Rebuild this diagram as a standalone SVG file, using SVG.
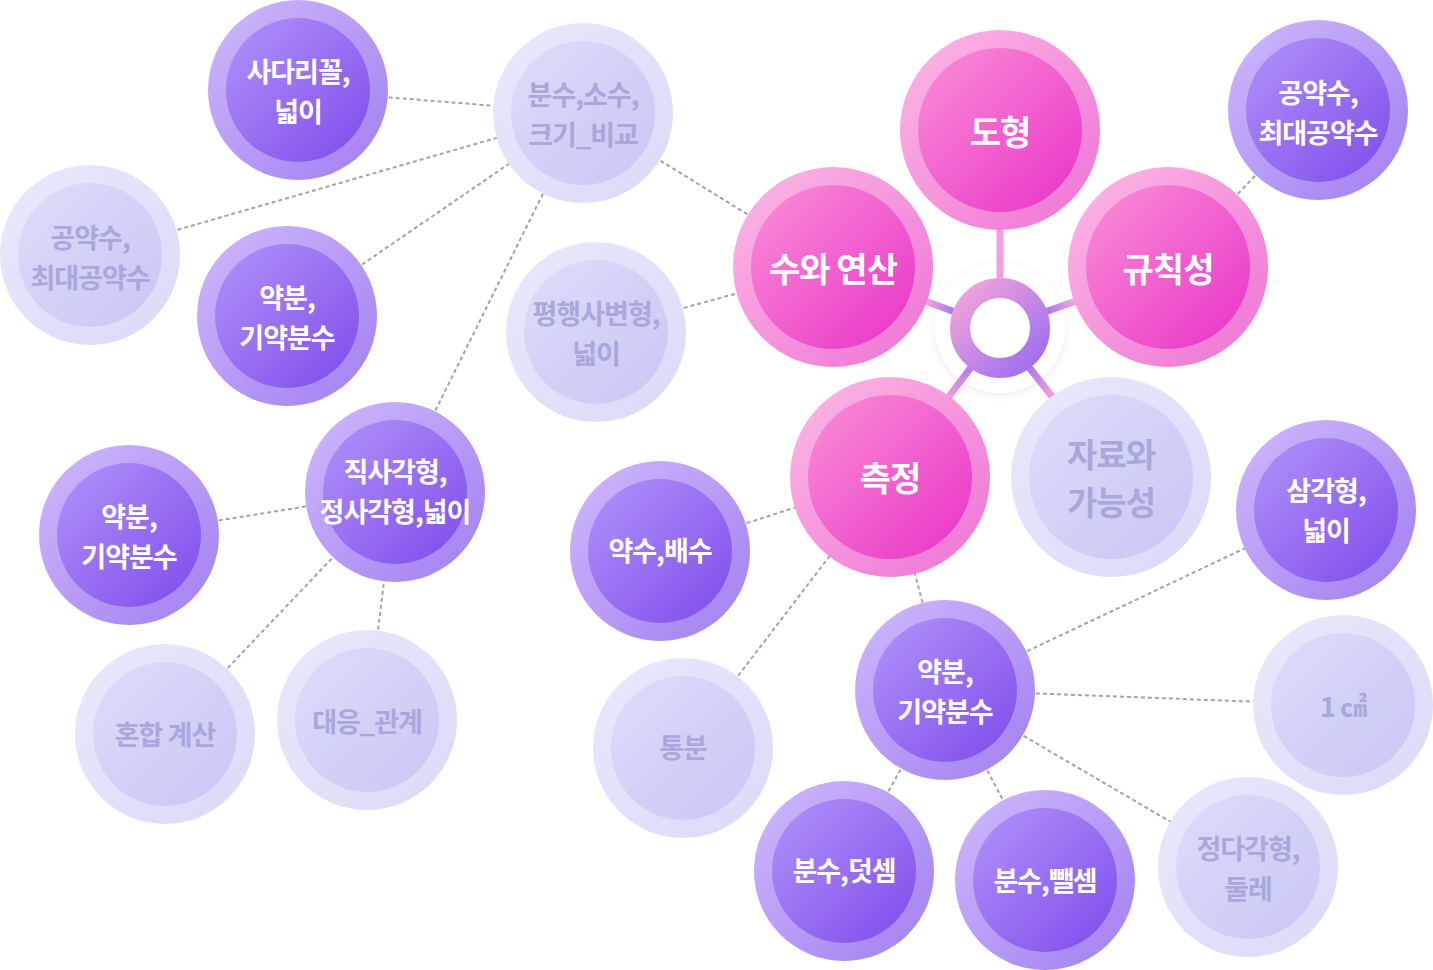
<svg xmlns="http://www.w3.org/2000/svg" width="1433" height="970" viewBox="0 0 1433 970">
<defs>
  <linearGradient id="gPurO" x1="0" y1="0" x2="1" y2="1"><stop offset="0" stop-color="#cfb9fd"/><stop offset="1" stop-color="#a17ef0"/></linearGradient>
  <linearGradient id="gPurI" x1="0" y1="0" x2="1" y2="1"><stop offset="0" stop-color="#b293fb"/><stop offset="1" stop-color="#7e4bea"/></linearGradient>
  <linearGradient id="gPinkO" x1="0" y1="0" x2="1" y2="1"><stop offset="0" stop-color="#fdb9e5"/><stop offset="1" stop-color="#ee72d5"/></linearGradient>
  <linearGradient id="gPinkI" x1="0" y1="0" x2="1" y2="1"><stop offset="0" stop-color="#fb8fd7"/><stop offset="1" stop-color="#e832c7"/></linearGradient>
  <linearGradient id="gLtO" x1="0" y1="0" x2="1" y2="1"><stop offset="0" stop-color="#e8e8fd"/><stop offset="1" stop-color="#dadaf9"/></linearGradient>
  <linearGradient id="gLtI" x1="0" y1="0" x2="1" y2="1"><stop offset="0" stop-color="#dcdcf9"/><stop offset="1" stop-color="#c7c7f6"/></linearGradient>
  <linearGradient id="gHub" x1="0" y1="0" x2="1" y2="1"><stop offset="0" stop-color="#f4a6da"/><stop offset="1" stop-color="#9a6cf1"/></linearGradient>
  <linearGradient id="sL" gradientUnits="userSpaceOnUse" x1="953" y1="311" x2="927" y2="301"><stop offset="0" stop-color="#a57cf0"/><stop offset="1" stop-color="#f4a2dc"/></linearGradient>
  <linearGradient id="sR" gradientUnits="userSpaceOnUse" x1="1047" y1="311" x2="1074" y2="301"><stop offset="0" stop-color="#a57cf0"/><stop offset="1" stop-color="#f4a2dc"/></linearGradient>
  <linearGradient id="sDL" gradientUnits="userSpaceOnUse" x1="970" y1="368" x2="949" y2="396"><stop offset="0" stop-color="#b07ded"/><stop offset="1" stop-color="#f09be0"/></linearGradient>
  <linearGradient id="sDR" gradientUnits="userSpaceOnUse" x1="1030" y1="368" x2="1052" y2="396"><stop offset="0" stop-color="#a97cf0"/><stop offset="1" stop-color="#f29ce0"/></linearGradient>
  <filter id="shadow" x="-30%" y="-30%" width="160%" height="160%">
    <feDropShadow dx="0" dy="2" stdDeviation="4" flood-color="#000" flood-opacity="0.08"/>
  </filter>
</defs>
<style>
  .o-pur{fill:url(#gPurO)} .i-pur{fill:url(#gPurI)}
  .o-pink{fill:url(#gPinkO)} .i-pink{fill:url(#gPinkI)}
  .o-lt{fill:url(#gLtO)} .i-lt{fill:url(#gLtI)}
  text{font-family:"Noto Sans CJK KR","Noto Sans",sans-serif;font-weight:700;text-anchor:middle;dominant-baseline:central}
  .tw{fill:#ffffff;font-size:27px;letter-spacing:-1px}
  .tl{fill:#a8a8dd;font-size:27px;letter-spacing:-1px}
  .tp{fill:#ffffff;font-size:34px;letter-spacing:-1px}
  .tb{fill:#a8a8dd;font-size:33px;letter-spacing:-1px}
  .dash{stroke:#a3a3a3;stroke-width:2;stroke-dasharray:4 3;fill:none}
  .spoke{stroke-width:7;fill:none}
</style>

<g id="connectors">
  <line class="dash" x1="298" y1="90" x2="583" y2="113"/>
  <line class="dash" x1="90" y1="255" x2="583" y2="113"/>
  <line class="dash" x1="287" y1="316" x2="583" y2="113"/>
  <line class="dash" x1="395" y1="492" x2="583" y2="113"/>
  <line class="dash" x1="583" y1="113" x2="833" y2="267"/>
  <line class="dash" x1="596" y1="332" x2="833" y2="267"/>
  <line class="dash" x1="129" y1="535" x2="395" y2="492"/>
  <line class="dash" x1="165" y1="734" x2="395" y2="492"/>
  <line class="dash" x1="367" y1="720" x2="395" y2="492"/>
  <line class="dash" x1="1318" y1="110" x2="1168" y2="267"/>
  <line class="dash" x1="660" y1="551" x2="890" y2="477"/>
  <line class="dash" x1="683" y1="748" x2="890" y2="477"/>
  <line class="dash" x1="890" y1="477" x2="945" y2="690"/>
  <line class="dash" x1="945" y1="690" x2="1326" y2="510"/>
  <line class="dash" x1="945" y1="690" x2="1343" y2="705"/>
  <line class="dash" x1="945" y1="690" x2="1248" y2="867"/>
  <line class="dash" x1="945" y1="690" x2="844" y2="871"/>
  <line class="dash" x1="945" y1="690" x2="1045" y2="880"/>
</g>

<g id="hub">
  <circle cx="1000" cy="328" r="65" fill="#ffffff" filter="url(#shadow)"/>
  <g id="spokes">
    <line class="spoke" x1="1000" y1="280" x2="1000" y2="226" stroke="#f39ddb"/>
    <line class="spoke" x1="955" y1="312" x2="925" y2="301" stroke="url(#sL)"/>
    <line class="spoke" x1="1045" y1="312" x2="1076" y2="301" stroke="url(#sR)"/>
    <line class="spoke" x1="972" y1="366" x2="947" y2="399" stroke="url(#sDL)"/>
    <line class="spoke" x1="1028" y1="366" x2="1054" y2="399" stroke="url(#sDR)"/>
  </g>
  <circle cx="1000" cy="328" r="40" fill="none" stroke="url(#gHub)" stroke-width="20"/>
</g>

<g id="n1" transform="translate(298,90)"><circle class="o-pur" r="90"/><circle class="i-pur" r="72"/><text class="tw"><tspan x="0" y="-20">사다리꼴,</tspan><tspan x="0" y="20">넓이</tspan></text></g>
<g id="n2" transform="translate(90,255)"><circle class="o-lt" r="90"/><circle class="i-lt" r="72"/><text class="tl"><tspan x="0" y="-19">공약수,</tspan><tspan x="0" y="21">최대공약수</tspan></text></g>
<g id="n3" transform="translate(287,316)"><circle class="o-pur" r="90"/><circle class="i-pur" r="72"/><text class="tw"><tspan x="0" y="-20">약분,</tspan><tspan x="0" y="20">기약분수</tspan></text></g>
<g id="n4" transform="translate(583,113)"><circle class="o-lt" r="90"/><circle class="i-lt" r="72"/><text class="tl"><tspan x="0" y="-20">분수,소수,</tspan><tspan x="0" y="20">크기_비교</tspan></text></g>
<g id="n5" transform="translate(596,332)"><circle class="o-lt" r="90"/><circle class="i-lt" r="72"/><text class="tl"><tspan x="0" y="-20">평행사변형,</tspan><tspan x="0" y="20">넓이</tspan></text></g>
<g id="n6" transform="translate(1000,130)"><circle class="o-pink" r="100"/><circle class="i-pink" r="82"/><text class="tp" y="0">도형</text></g>
<g id="n7" transform="translate(833,267)"><circle class="o-pink" r="100"/><circle class="i-pink" r="82"/><text class="tp" y="0">수와 연산</text></g>
<g id="n8" transform="translate(1168,267)"><circle class="o-pink" r="100"/><circle class="i-pink" r="82"/><text class="tp" y="0">규칙성</text></g>
<g id="n9" transform="translate(1318,110)"><circle class="o-pur" r="90"/><circle class="i-pur" r="72"/><text class="tw"><tspan x="0" y="-19">공약수,</tspan><tspan x="0" y="21">최대공약수</tspan></text></g>
<g id="n10" transform="translate(1111,477)"><circle class="o-lt" r="100"/><circle class="i-lt" r="82"/><text class="tb"><tspan x="0" y="-24">자료와</tspan><tspan x="0" y="24">가능성</tspan></text></g>
<g id="n11" transform="translate(1326,510)"><circle class="o-pur" r="90"/><circle class="i-pur" r="72"/><text class="tw"><tspan x="0" y="-21">삼각형,</tspan><tspan x="0" y="19">넓이</tspan></text></g>
<g id="n12" transform="translate(890,477)"><circle class="o-pink" r="100"/><circle class="i-pink" r="82"/><text class="tp" y="-1">측정</text></g>
<g id="n13" transform="translate(660,551)"><circle class="o-pur" r="90"/><circle class="i-pur" r="72"/><text class="tw" y="-2">약수,배수</text></g>
<g id="n14" transform="translate(683,748)"><circle class="o-lt" r="90"/><circle class="i-lt" r="72"/><text class="tl" y="-2">통분</text></g>
<g id="n15" transform="translate(945,690)"><circle class="o-pur" r="90"/><circle class="i-pur" r="72"/><text class="tw"><tspan x="0" y="-20">약분,</tspan><tspan x="0" y="20">기약분수</tspan></text></g>
<g id="n16" transform="translate(844,871)"><circle class="o-pur" r="90"/><circle class="i-pur" r="72"/><text class="tw" y="-2">분수,덧셈</text></g>
<g id="n17" transform="translate(1045,880)"><circle class="o-pur" r="90"/><circle class="i-pur" r="72"/><text class="tw" y="-1">분수,뺄셈</text></g>
<g id="n18" transform="translate(1248,867)"><circle class="o-lt" r="90"/><circle class="i-lt" r="72"/><text class="tl"><tspan x="0" y="-20">정다각형,</tspan><tspan x="0" y="20">둘레</tspan></text></g>
<g id="n19" transform="translate(1343,705)"><circle class="o-lt" r="90"/><circle class="i-lt" r="72"/><text class="tl" y="0">1 ㎠</text></g>
<g id="n20" transform="translate(129,535)"><circle class="o-pur" r="90"/><circle class="i-pur" r="72"/><text class="tw"><tspan x="0" y="-20">약분,</tspan><tspan x="0" y="20">기약분수</tspan></text></g>
<g id="n21" transform="translate(395,492)"><circle class="o-pur" r="90"/><circle class="i-pur" r="72"/><text class="tw"><tspan x="0" y="-22">직사각형,</tspan><tspan x="0" y="18">정사각형,넓이</tspan></text></g>
<g id="n22" transform="translate(165,734)"><circle class="o-lt" r="90"/><circle class="i-lt" r="72"/><text class="tl" y="-1">혼합 계산</text></g>
<g id="n23" transform="translate(367,720)"><circle class="o-lt" r="90"/><circle class="i-lt" r="72"/><text class="tl" y="0">대응_관계</text></g>
</svg>
